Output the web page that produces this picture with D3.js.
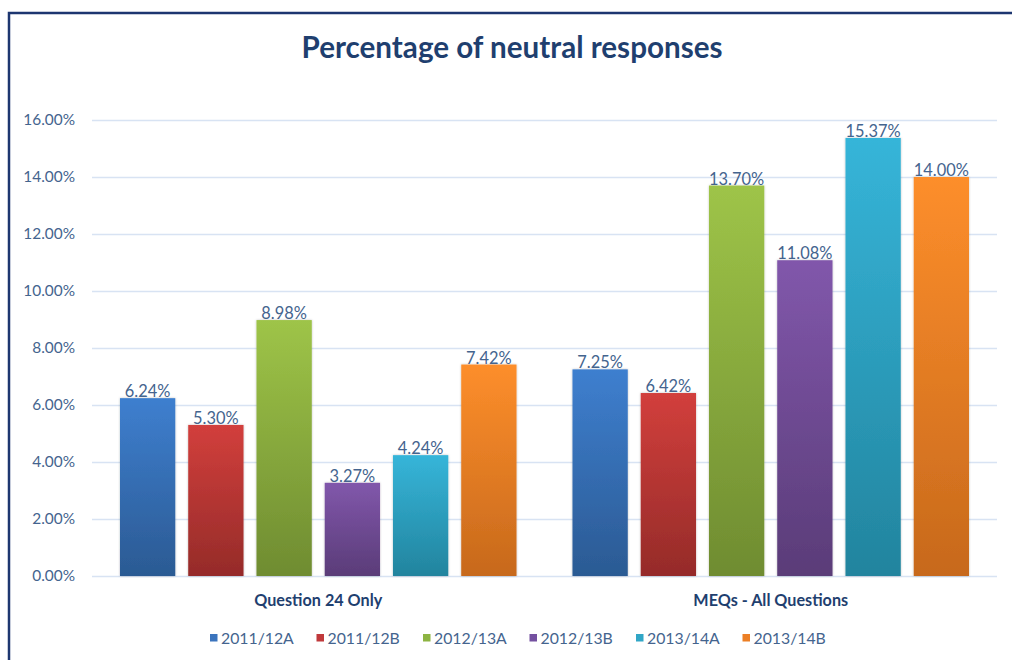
<!DOCTYPE html>
<html>
<head>
<meta charset="utf-8">
<script src="https://cdn.jsdelivr.net/npm/d3@7"></script>
<style>
  html, body { margin: 0; padding: 0; background: #ffffff; }
  svg { display: block; }
</style>
</head>
<body>
<svg id="chart" width="1012" height="660"></svg>
<script>
// Chart data
const categories = ["Question 24 Only", "MEQs - All Questions"];
const seriesNames = ["2011/12A", "2011/12B", "2012/13A", "2012/13B", "2013/14A", "2013/14B"];
const question24Values = [6.24, 5.30, 8.98, 3.27, 4.24, 7.42];
const allQuestionsValues = [7.25, 6.42, 13.70, 11.08, 15.37, 14.00];
const yTicks = [0, 2, 4, 6, 8, 10, 12, 14, 16];
const titleText = "Percentage of neutral responses";

// Gradient colour pairs (top, bottom) per series
const seriesColors = [
  ["#3e7fcf", "#2b5a93"],
  ["#d23f3c", "#952b29"],
  ["#9ec448", "#6f8c31"],
  ["#8157ab", "#5a3c78"],
  ["#36b5d9", "#22849e"],
  ["#fd8e2b", "#c7691c"]
];
const legendColors = ["#3b74bd", "#c0393b", "#8db442", "#7450a0", "#31a6c6", "#ec7f25"];

const valuesByCategory = [question24Values, allQuestionsValues];

const svg = d3.select("#chart");
const W = 1012, H = 660;
const margin = { left: 92, top: 120 };
const plotRight = 997, plotBottom = 576;

const fontFamily = "Lato, 'Open Sans', sans-serif";
const textBlue = "#44648e";
const darkBlue = "#1f3f6f";

// Gradients
const defs = svg.append("defs");
seriesColors.forEach((c, i) => {
  const g = defs.append("linearGradient")
    .attr("id", "grad" + i)
    .attr("x1", 0).attr("y1", 0).attr("x2", 0).attr("y2", 1);
  g.append("stop").attr("offset", "0%").attr("stop-color", c[0]);
  g.append("stop").attr("offset", "100%").attr("stop-color", c[1]);
});
const shadow = defs.append("filter").attr("id", "shadow")
  .attr("x", "-20%").attr("y", "-5%").attr("width", "140%").attr("height", "110%");
shadow.append("feDropShadow").attr("dx", 0).attr("dy", 0)
  .attr("stdDeviation", 1.2).attr("flood-color", "#000").attr("flood-opacity", 0.25);

// Outer frame
svg.append("rect")
  .attr("x", 9).attr("y", 13)
  .attr("width", W + 20).attr("height", H + 20)
  .attr("fill", "none")
  .attr("stroke", "#1d3670")
  .attr("stroke-width", 2.5);

// Title
svg.append("text")
  .attr("x", 512).attr("y", 58)
  .attr("text-anchor", "middle")
  .attr("font-family", fontFamily)
  .attr("font-weight", "bold")
  .attr("font-size", 29.6)
  .attr("fill", darkBlue)
  .text(titleText);

// Scales
const y = d3.scaleLinear().domain([0, 16]).range([plotBottom, margin.top]);
const x0 = d3.scaleBand().domain(categories).range([margin.left, plotRight]).padding(0);
const x1 = d3.scaleBand().domain(seriesNames).range([0, x0.bandwidth()])
  .paddingInner(0.19).paddingOuter(0.41);

// Gridlines
svg.append("g")
  .selectAll("line")
  .data(yTicks)
  .join("line")
  .attr("x1", margin.left).attr("x2", plotRight)
  .attr("y1", d => y(d) + 0.5).attr("y2", d => y(d) + 0.5)
  .attr("stroke", "#d8e3f3")
  .attr("stroke-width", 1.3);

// Y axis labels
const yAxis = d3.axisLeft(y).tickValues(yTicks).tickSize(0).tickPadding(0)
  .tickFormat(d => d.toFixed(2) + "%");
const yg = svg.append("g").attr("transform", "translate(75,0)").call(yAxis);
yg.select(".domain").remove();
yg.selectAll("text")
  .attr("font-family", fontFamily)
  .attr("font-size", 15.4)
  .attr("fill", textBlue);

// Bars
const groups = svg.append("g")
  .selectAll("g")
  .data(categories)
  .join("g")
  .attr("transform", d => `translate(${x0(d)},0)`);

groups.each(function(cat, ci) {
  const g = d3.select(this);
  const vals = valuesByCategory[ci];
  g.selectAll("rect")
    .data(vals)
    .join("rect")
    .attr("x", (d, i) => x1(seriesNames[i]))
    .attr("y", d => y(d))
    .attr("width", x1.bandwidth())
    .attr("height", d => plotBottom - y(d))
    .attr("fill", (d, i) => `url(#grad${i})`)
    .attr("filter", "url(#shadow)");
  g.selectAll("text")
    .data(vals)
    .join("text")
    .attr("x", (d, i) => x1(seriesNames[i]) + x1.bandwidth() / 2)
    .attr("y", d => y(d) - 1)
    .attr("text-anchor", "middle")
    .attr("font-family", fontFamily)
    .attr("font-size", 16.4)
    .attr("fill", textBlue)
    .text(d => d.toFixed(2) + "%");
});

// Category labels
const xAxis = d3.axisBottom(x0).tickSize(0).tickPadding(0);
const xg = svg.append("g").attr("transform", `translate(0,${plotBottom + 30})`).call(xAxis);
xg.select(".domain").remove();
xg.selectAll("text")
  .attr("dy", 0)
  .attr("font-family", fontFamily)
  .attr("font-weight", "bold")
  .attr("font-size", 16.2)
  .attr("fill", darkBlue);

// Legend
const legendStart = 210, legendStep = 106.5, legendY = 638;
const legend = svg.append("g")
  .selectAll("g")
  .data(seriesNames)
  .join("g")
  .attr("transform", (d, i) => `translate(${legendStart + i * legendStep},${legendY})`);
legend.append("rect")
  .attr("x", 0).attr("y", -4)
  .attr("width", 7.5).attr("height", 7.5)
  .attr("fill", (d, i) => legendColors[i]);
legend.append("text")
  .attr("x", 11).attr("y", 5.5)
  .attr("font-family", fontFamily)
  .attr("font-size", 15.8)
  .attr("fill", textBlue)
  .text(d => d);
</script>
</body>
</html>
